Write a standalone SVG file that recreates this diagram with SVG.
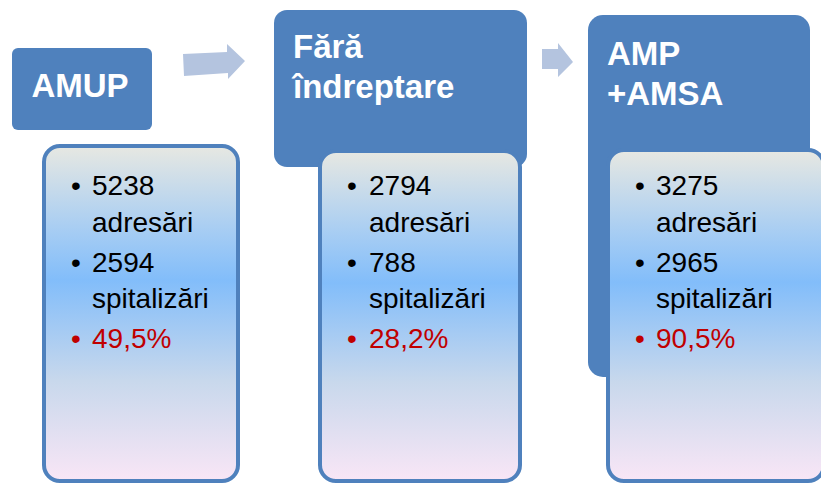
<svg xmlns="http://www.w3.org/2000/svg" width="821" height="485" viewBox="0 0 821 485">
<defs>
<linearGradient id="fillGrad" x1="0" y1="0" x2="0" y2="1">
<stop offset="0" stop-color="#e7e8e2"/>
<stop offset="0.25" stop-color="#a7cdf3"/>
<stop offset="0.4" stop-color="#82bdfa"/>
<stop offset="0.7" stop-color="#c8d8ec"/>
<stop offset="1" stop-color="#f9e6f6"/>
</linearGradient>
</defs>
<style>
.hdr{fill:#4f81bd;}
.body{fill:url(#fillGrad);stroke:#4f81bd;stroke-width:4;}
.ht{font-family:"Liberation Sans",Arial,sans-serif;font-weight:bold;font-size:33px;fill:#ffffff;}
.bt{font-family:"Liberation Sans",Arial,sans-serif;font-size:28px;fill:#000000;}
.red{fill:#c00000;}
.arrow{fill:#b4c4df;}
</style>
<rect width="821" height="485" fill="#ffffff"/>
<g id="connectors">
<polygon class="arrow" points="183,54 227,52 227,44 245,61 228,79 228,73 184,76"/>
<polygon class="arrow" points="542,49 558,49 558,43 573,62 558,77 558,69 542,69"/>
</g>
<g id="node-amup">
<rect class="hdr" x="12" y="48" width="140" height="82" rx="6"/>
<text class="ht" x="80" y="97" text-anchor="middle">AMUP</text>
<rect class="body" x="44" y="146" width="194" height="335" rx="16"/>
<text class="bt" x="76" y="195" text-anchor="middle">•</text>
<text class="bt" x="92" y="195">5238</text>
<text class="bt" x="92" y="232">adresări</text>
<text class="bt" x="76" y="272" text-anchor="middle">•</text>
<text class="bt" x="92" y="272">2594</text>
<text class="bt" x="92" y="308">spitalizări</text>
<text class="bt red" x="76" y="348" text-anchor="middle">•</text>
<text class="bt red" x="92" y="348">49,5%</text>
</g>
<g id="node-fara">
<rect class="hdr" x="274" y="10" width="253" height="157" rx="13"/>
<text class="ht" x="293" y="58">Fără</text>
<text class="ht" x="293" y="98">îndreptare</text>
<rect class="body" x="320" y="151" width="200" height="330" rx="16"/>
<text class="bt" x="352" y="195" text-anchor="middle">•</text>
<text class="bt" x="369" y="195">2794</text>
<text class="bt" x="369" y="232">adresări</text>
<text class="bt" x="352" y="272" text-anchor="middle">•</text>
<text class="bt" x="369" y="272">788</text>
<text class="bt" x="369" y="308">spitalizări</text>
<text class="bt red" x="352" y="348" text-anchor="middle">•</text>
<text class="bt red" x="369" y="348">28,2%</text>
</g>
<g id="node-amp">
<rect class="hdr" x="588" y="15" width="222" height="362" rx="15"/>
<text class="ht" x="607" y="65">AMP</text>
<text class="ht" x="607" y="105">+AMSA</text>
<rect class="body" x="608" y="150" width="216" height="331" rx="16"/>
<text class="bt" x="640" y="195" text-anchor="middle">•</text>
<text class="bt" x="656" y="195">3275</text>
<text class="bt" x="656" y="232">adresări</text>
<text class="bt" x="640" y="272" text-anchor="middle">•</text>
<text class="bt" x="656" y="272">2965</text>
<text class="bt" x="656" y="308">spitalizări</text>
<text class="bt red" x="640" y="348" text-anchor="middle">•</text>
<text class="bt red" x="656" y="348">90,5%</text>
</g>
</svg>
